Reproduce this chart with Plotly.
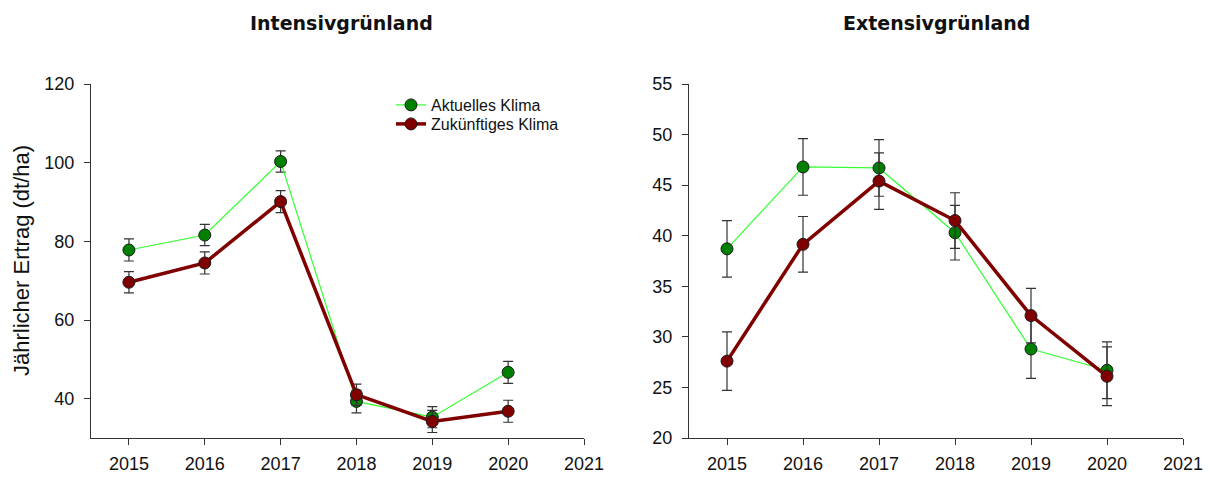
import plotly.graph_objects as go

years = [2015, 2016, 2017, 2018, 2019, 2020]

# Intensivgrünland
int_aktuell = [77.8, 81.6, 100.3, 39.3, 35.3, 46.7]
int_aktuell_err = [2.8, 2.7, 2.7, 2.9, 2.7, 2.8]
int_zukunft = [69.6, 74.5, 90.1, 41.0, 34.2, 36.8]
int_zukunft_err = [2.7, 2.8, 2.8, 2.7, 2.8, 2.8]

# Extensivgrünland
ext_aktuell = [38.7, 46.8, 46.7, 40.3, 28.8, 26.7]
ext_aktuell_err = [2.8, 2.8, 2.8, 2.7, 2.9, 2.8]
ext_zukunft = [27.6, 39.15, 45.4, 41.5, 32.1, 26.1]
ext_zukunft_err = [2.9, 2.75, 2.8, 2.75, 2.7, 2.9]

x_ticks = [2015, 2016, 2017, 2018, 2019, 2020, 2021]
left_yticks = [40, 60, 80, 100, 120]
right_yticks = [20, 25, 30, 35, 40, 45, 50, 55]

W, H = 1212, 477
GREEN_LINE = "#33ff33"
GREEN_MK = "#008000"
RED = "#800000"
FONT = "Liberation Sans, Arial, sans-serif"
TITLE_FONT = "DejaVu Sans, Liberation Sans, sans-serif"
TXT = "#111111"

fig = go.Figure()

def add_series(x, y, err, xa, ya, name, line_color, line_width, mk_color, show, legend):
    fig.add_trace(go.Scatter(
        x=x, y=y, mode="lines+markers", name=name, showlegend=show, legend=legend,
        xaxis=xa, yaxis=ya,
        line=dict(color=line_color, width=line_width),
        marker=dict(size=12, color=mk_color, line=dict(color="#1a1a1a", width=1)),
        error_y=dict(type="data", array=err, visible=True, color="#333333",
                     thickness=1.2, width=5),
    ))

add_series(years, int_aktuell, int_aktuell_err, "x", "y", "Aktuelles Klima", GREEN_LINE, 1.2, GREEN_MK, True, "legend")
add_series(years, int_zukunft, int_zukunft_err, "x", "y", "Zukünftiges Klima", RED, 3.5, RED, True, "legend2")
add_series(years, ext_aktuell, ext_aktuell_err, "x2", "y2", "Aktuelles Klima", GREEN_LINE, 1.2, GREEN_MK, False, "legend")
add_series(years, ext_zukunft, ext_zukunft_err, "x2", "y2", "Zukünftiges Klima", RED, 3.5, RED, False, "legend2")

ydom = [(H - 438) / H, (H - 84) / H]
axis_common = dict(showgrid=False, zeroline=False, showline=True, linecolor="#333333",
                   linewidth=1, ticks="outside", ticklen=6, tickcolor="#333333",
                   tickfont=dict(family=FONT, size=18, color=TXT))

legend_common = dict(xanchor="left", yanchor="top", bgcolor="rgba(0,0,0,0)",
                     font=dict(family=FONT, size=16, color=TXT))

fig.update_layout(
    width=W, height=H, autosize=False,
    margin=dict(l=0, r=0, t=0, b=0, autoexpand=False),
    paper_bgcolor="white", plot_bgcolor="white",
    font=dict(family=FONT, color=TXT),
    xaxis=dict(domain=[91 / W, 584 / W], range=[2014.5, 2021], tickvals=x_ticks,
               anchor="y", ticklabelstandoff=3, **axis_common),
    yaxis=dict(domain=ydom, range=[30, 120], tickvals=left_yticks, anchor="x",
               ticklabelstandoff=6, **axis_common),
    xaxis2=dict(domain=[689 / W, 1183 / W], range=[2014.5, 2021], tickvals=x_ticks,
                anchor="y2", ticklabelstandoff=3, **axis_common),
    yaxis2=dict(domain=ydom, range=[20, 55], tickvals=right_yticks, anchor="x2",
                ticklabelstandoff=6, **axis_common),
    legend=dict(x=391 / W, y=1 - 88 / H, **legend_common),
    legend2=dict(x=391 / W, y=1 - 107 / H, **legend_common),
    showlegend=True,
    annotations=[
        dict(text="<b>Intensivgrünland</b>", x=341 / W, y=1 - 23 / H, xref="paper", yref="paper",
             xanchor="center", yanchor="middle",
             showarrow=False, font=dict(family=TITLE_FONT, size=19, color=TXT)),
        dict(text="<b>Extensivgrünland</b>", x=936 / W, y=1 - 23 / H, xref="paper", yref="paper",
             xanchor="center", yanchor="middle",
             showarrow=False, font=dict(family=TITLE_FONT, size=19, color=TXT)),
        dict(text="Jährlicher Ertrag (dt/ha)", x=21 / W, y=1 - 261 / H, xref="paper", yref="paper",
             xanchor="center", yanchor="middle",
             showarrow=False, textangle=-90, font=dict(family=FONT, size=22, color=TXT)),
    ],
)

fig.write_html(
    "out.html",
    config={"responsive": False, "displayModeBar": False},
    post_script="document.body.style.margin='0';document.documentElement.style.overflow='hidden';document.body.style.overflow='hidden';",
)
